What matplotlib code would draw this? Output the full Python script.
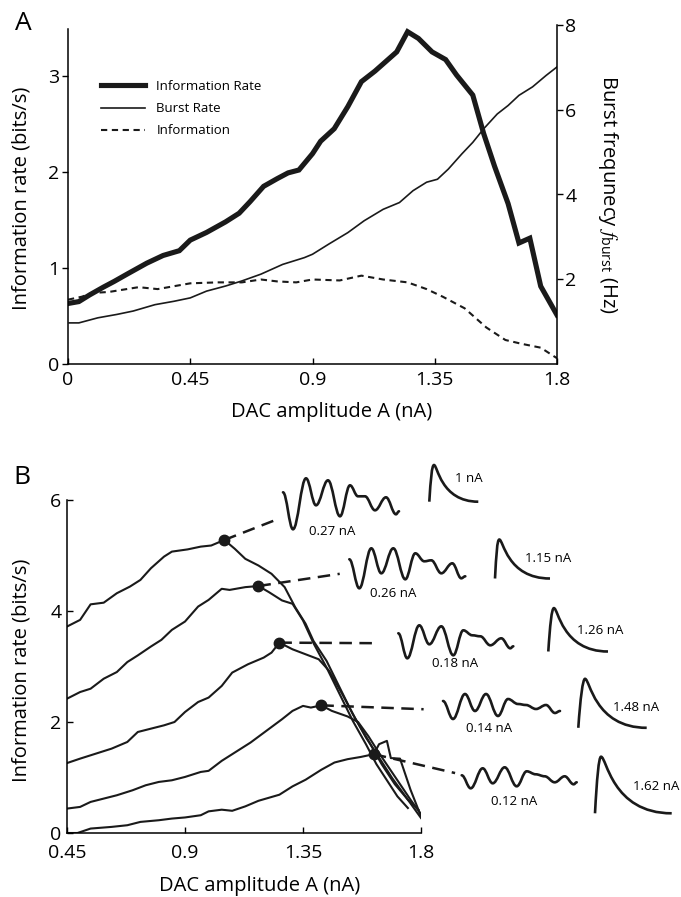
import matplotlib
matplotlib.use('Agg')
import matplotlib.pyplot as plt
from matplotlib.path import Path
from matplotlib.patches import PathPatch

plt.rcParams['font.family'] = ['Open Sans', 'DejaVu Sans']
plt.rcParams['mathtext.fontset'] = 'custom'
plt.rcParams['mathtext.rm'] = 'Open Sans'
plt.rcParams['mathtext.it'] = 'STIXGeneral:italic'

INK = '#1a1a1a'

# ---- panel A data ----
rate_x = [0, 0.04, 0.08, 0.13, 0.17, 0.22, 0.29, 0.35, 0.41, 0.45, 0.51, 0.58, 0.63, 0.67,
          0.72, 0.77, 0.81, 0.85, 0.90, 0.93, 0.98, 1.03, 1.08, 1.13, 1.17, 1.21, 1.25, 1.29,
          1.34, 1.39, 1.43, 1.49, 1.53, 1.57, 1.62, 1.66, 1.70, 1.74, 1.80]
info_rate = [0.63, 0.65, 0.72, 0.80, 0.86, 0.94, 1.05, 1.13, 1.18, 1.29, 1.37, 1.48, 1.57, 1.69,
             1.85, 1.93, 1.99, 2.02, 2.19, 2.32, 2.45, 2.68, 2.94, 3.05, 3.15, 3.25, 3.46, 3.39,
             3.25, 3.17, 3.01, 2.80, 2.40, 2.06, 1.67, 1.26, 1.31, 0.81, 0.51]

burst_x = [0, 0.04, 0.11, 0.18, 0.24, 0.32, 0.39, 0.45, 0.51, 0.58, 0.64, 0.71, 0.79, 0.87,
           0.90, 0.96, 1.03, 1.09, 1.16, 1.22, 1.27, 1.32, 1.36, 1.40, 1.45, 1.49, 1.53, 1.58,
           1.62, 1.66, 1.71, 1.76, 1.80]
burst_rate = [0.97, 0.97, 1.09, 1.17, 1.25, 1.40, 1.48, 1.56, 1.72, 1.84, 1.96, 2.12, 2.35, 2.51,
              2.59, 2.83, 3.10, 3.38, 3.65, 3.81, 4.09, 4.29, 4.36, 4.60, 4.96, 5.23, 5.55, 5.90,
              6.10, 6.34, 6.54, 6.81, 7.01]

infom_x = [0, 0.05, 0.09, 0.15, 0.26, 0.33, 0.39, 0.45, 0.55, 0.64, 0.71, 0.77, 0.84, 0.90,
           1.00, 1.08, 1.16, 1.25, 1.32, 1.38, 1.46, 1.54, 1.61, 1.67, 1.74, 1.80]
information = [0.67, 0.70, 0.74, 0.75, 0.80, 0.78, 0.81, 0.84, 0.85, 0.85, 0.88, 0.86, 0.85, 0.88,
               0.87, 0.92, 0.88, 0.85, 0.78, 0.70, 0.58, 0.38, 0.25, 0.21, 0.17, 0.06]

# ---- panel B data ----
b_x = [
    [0.45, 0.50, 0.54, 0.59, 0.64, 0.69, 0.73, 0.77, 0.82, 0.85, 0.91, 0.96, 1.00, 1.05, 1.09,
     1.13, 1.18, 1.23, 1.28, 1.32, 1.36, 1.39, 1.44, 1.49, 1.54, 1.59, 1.64, 1.69, 1.75, 1.80],
    [0.45, 0.50, 0.54, 0.59, 0.64, 0.68, 0.72, 0.77, 0.81, 0.85, 0.90, 0.95, 0.99, 1.04, 1.07,
     1.13, 1.18, 1.22, 1.27, 1.31, 1.35, 1.39, 1.44, 1.49, 1.54, 1.59, 1.63, 1.67, 1.71, 1.75],
    [0.45, 0.50, 0.56, 0.62, 0.68, 0.72, 0.77, 0.82, 0.86, 0.90, 0.95, 0.99, 1.04, 1.08, 1.14,
     1.20, 1.23, 1.26, 1.31, 1.36, 1.41, 1.45, 1.50, 1.55, 1.60, 1.65, 1.70, 1.75, 1.79],
    [0.45, 0.50, 0.54, 0.59, 0.64, 0.70, 0.75, 0.80, 0.85, 0.90, 0.96, 0.99, 1.04, 1.09, 1.15,
     1.21, 1.27, 1.31, 1.35, 1.38, 1.42, 1.46, 1.52, 1.56, 1.60, 1.64, 1.68, 1.72, 1.76, 1.80],
    [0.45, 0.49, 0.54, 0.62, 0.68, 0.73, 0.80, 0.85, 0.90, 0.96, 0.99, 1.04, 1.08, 1.13, 1.18,
     1.26, 1.31, 1.36, 1.42, 1.47, 1.52, 1.57, 1.62, 1.64, 1.67, 1.685, 1.72, 1.76, 1.80],
]
b_y = [
    [3.72, 3.84, 4.12, 4.15, 4.32, 4.44, 4.56, 4.77, 4.98, 5.07, 5.11, 5.16, 5.18, 5.28, 5.12,
     4.94, 4.82, 4.67, 4.43, 4.07, 3.77, 3.46, 3.10, 2.62, 2.14, 1.72, 1.36, 0.99, 0.60, 0.27],
    [2.42, 2.54, 2.60, 2.78, 2.90, 3.08, 3.20, 3.36, 3.48, 3.66, 3.81, 4.08, 4.20, 4.40, 4.38,
     4.43, 4.45, 4.34, 4.19, 4.13, 3.83, 3.42, 2.98, 2.50, 2.02, 1.60, 1.24, 0.95, 0.66, 0.45],
    [1.26, 1.34, 1.43, 1.52, 1.64, 1.82, 1.88, 1.94, 2.00, 2.18, 2.36, 2.44, 2.65, 2.89, 3.04,
     3.16, 3.25, 3.43, 3.31, 3.22, 3.13, 2.92, 2.50, 2.06, 1.66, 1.24, 0.88, 0.60, 0.42],
    [0.44, 0.47, 0.56, 0.62, 0.68, 0.77, 0.86, 0.92, 0.95, 1.01, 1.10, 1.12, 1.30, 1.45, 1.63,
     1.84, 2.05, 2.20, 2.29, 2.26, 2.30, 2.20, 2.10, 2.00, 1.74, 1.44, 1.16, 0.88, 0.60, 0.34],
    [0.0, 0.0, 0.08, 0.11, 0.14, 0.20, 0.23, 0.26, 0.28, 0.32, 0.39, 0.42, 0.40, 0.48, 0.58,
     0.69, 0.84, 0.96, 1.14, 1.27, 1.33, 1.37, 1.42, 1.60, 1.66, 1.35, 1.34, 0.78, 0.30],
]
peak_x = [1.05, 1.18, 1.26, 1.42, 1.62]
peak_y = [5.28, 4.45, 3.43, 2.30, 1.42]
link_x = [1.24, 1.49, 1.63, 1.81, 1.93]
link_y = [5.63, 4.67, 3.42, 2.23, 1.08]

# inset traces: oscillation (time, amplitude) and kernels (peak time, height, length)
osc_t = [
    [0, 10, 23, 33, 45, 57, 67, 75, 82, 92, 103, 113, 116],
    [0, 10, 22, 32, 44, 56, 66, 75, 82, 92, 103, 112, 116],
    [0, 9, 21, 31, 43, 55, 65, 74, 82, 92, 103, 112, 115],
    [0, 10, 22, 32, 43, 55, 65, 75, 83, 93, 103, 112, 117],
    [0, 9, 21, 31, 43, 55, 65, 74, 83, 93, 103, 112, 115],
]
osc_v = [
    [37, 0, 51, 24, 49, 13, 44, 33, 33, 19, 32, 15, 18],
    [29, 0, 40, 15, 40, 9, 35, 27, 28, 15, 25, 10, 12],
    [25, 0, 33, 14, 32, 3, 28, 23, 22, 13, 20, 10, 12],
    [18, 0, 25, 8, 25, 3, 20, 15, 14, 10, 14, 6, 8],
    [13, 0, 20, 5, 21, 2, 17, 14, 12, 6, 12, 4, 6],
]
osc_labels = ['0.27 nA', '0.26 nA', '0.18 nA', '0.14 nA', '0.12 nA']
kern_peak = [4.7, 4.3, 5.6, 6.7, 6.0]
kern_height = [36.7, 39.0, 43.4, 49.0, 56.6]
kern_len = [49.0, 55.0, 59.7, 68.4, 76.7]
kern_labels = ['1 nA', '1.15 nA', '1.26 nA', '1.48 nA', '1.62 nA']

W, H = 681, 897
fig = plt.figure(figsize=(W / 100, H / 100), dpi=100)


def fx(px):
    return px / W


def fy(py):
    return 1 - py / H


# ================= panel A =================
ax = fig.add_axes([fx(68), fy(364), fx(489), 339 / H])
ax.plot(rate_x, info_rate, color=INK, lw=3.7, solid_joinstyle='miter', label='Information Rate')
ax2 = ax.twinx()
ax2.plot(burst_x, burst_rate, color=INK, lw=1.2)
ax.plot([], [], color=INK, lw=1.2, label='Burst Rate')
ax.plot(infom_x, information, color=INK, lw=1.5, dashes=(3, 2.2), label='Information')

ax.set_xlim(0, 1.8)
ax.set_ylim(0, 3.53)
ax2.set_ylim(0, 8)
ax.set_xticks([0, 0.45, 0.9, 1.35, 1.8])
ax.set_xticklabels(['0', '0.45', '0.9', '1.35', '1.8'])
ax.set_yticks([0, 1, 2, 3])
ax2.set_yticks([2, 4, 6, 8])
ax.spines['top'].set_visible(False)
ax2.spines['top'].set_visible(False)
ax2.spines['left'].set_visible(False)
ax2.spines['bottom'].set_visible(False)
ax.spines['right'].set_visible(False)
ax.spines['left'].set_bounds(0, 3.49)
for s in ('left', 'bottom'):
    ax.spines[s].set_linewidth(1.1)
ax2.spines['right'].set_linewidth(1.1)
ax.tick_params(axis='x', direction='in', length=4, width=1, labelsize=14, pad=5)
ax.tick_params(axis='y', direction='out', length=4, width=1, labelsize=14, pad=2)
ax2.tick_params(axis='y', direction='out', length=4, width=1, labelsize=14, pad=2)

ax.set_xlabel('DAC amplitude A (nA)', fontsize=14.5)
ax.xaxis.set_label_coords(0.54, -0.112)
ax.set_ylabel('Information rate (bits/s)', fontsize=14.5)
ax.yaxis.set_label_coords(-0.074, 0.49)
ax2.set_ylabel(r'Burst frequnecy $f_{\mathrm{burst}}$ (Hz)', fontsize=14.5,
               rotation=270, va='bottom', rotation_mode='anchor')
ax2.yaxis.set_label_coords(1.080, 0.50)

ax.legend(loc='upper left', bbox_to_anchor=(fx(101), fy(80)), bbox_transform=fig.transFigure,
          frameon=False, fontsize=9.5, handlelength=3.3, handletextpad=0.9,
          labelspacing=0.7, borderpad=0, borderaxespad=0)

fig.text(fx(23), fy(24), 'A', fontsize=19, ha='center', va='center')

# ================= panel B =================
bx = fig.add_axes([fx(67), fy(833), fx(354), 333 / H])
for xs, ys in zip(b_x, b_y):
    bx.plot(xs, ys, color=INK, lw=1.5)
bx.plot(peak_x, peak_y, 'o', color=INK, ms=7.5, zorder=5, clip_on=False)
for px, py, lx, ly in zip(peak_x, peak_y, link_x, link_y):
    bx.plot([px, lx], [py, ly], color=INK, lw=1.8, dashes=(5, 3), clip_on=False)

bx.set_xlim(0.45, 1.8)
bx.set_ylim(0, 6)
bx.set_xticks([0.45, 0.9, 1.35, 1.8])
bx.set_xticklabels(['0.45', '0.9', '1.35', '1.8'])
bx.set_yticks([0, 2, 4, 6])
bx.spines['top'].set_visible(False)
bx.spines['right'].set_visible(False)
for s in ('left', 'bottom'):
    bx.spines[s].set_linewidth(1.1)
bx.tick_params(axis='both', direction='in', length=4, width=1, labelsize=14)
bx.tick_params(axis='x', pad=8)
bx.tick_params(axis='y', pad=4)
bx.set_xlabel('DAC amplitude A (nA)', fontsize=14.5)
bx.xaxis.set_label_coords(0.545, -0.128)
bx.set_ylabel('Information rate (bits/s)', fontsize=14.5)
bx.yaxis.set_label_coords(-0.099, 0.49)

fig.text(fx(22), fy(477), 'B', fontsize=19, ha='center', va='center')

# ================= inset traces =================
osc_left = [283.0, 349.3, 398.3, 443.0, 461.7]
osc_base = [529.3, 588.3, 658.3, 719.0, 788.3]
osc_label_pos = [(331.7, 531.7), (393.3, 593.0), (455.0, 663.3), (489.3, 728.3), (513.7, 801.0)]
kern_left = [429.3, 495.0, 548.3, 578.3, 595.0]
kern_base = [501.7, 578.5, 651.5, 727.8, 813.3]
kern_label_pos = [(455.0, 478.3), (525.0, 558.3), (576.7, 630.0), (613.3, 707.5), (633.3, 786.7)]


def osc_path(t, v):
    verts = [(t[0], v[0])]
    codes = [Path.MOVETO]
    for i in range(1, len(t)):
        dt = t[i] - t[i - 1]
        verts += [(t[i - 1] + 0.38 * dt, v[i - 1]), (t[i] - 0.38 * dt, v[i]), (t[i], v[i])]
        codes += [Path.CURVE4] * 3
    return Path(verts, codes)


def kern_path(tp, h, w):
    verts = [(0, 0), (0.3 * tp, 0.6 * h), (tp - 2.2, h), (tp, h),
             (tp + 0.08 * (w - tp), h), (tp + 0.15 * (w - tp), 0), (w, 0)]
    codes = [Path.MOVETO] + [Path.CURVE4] * 6
    return Path(verts, codes)


for i in range(5):
    w = max(osc_t[i])
    h = max(osc_v[i])
    ia = fig.add_axes([fx(osc_left[i]), fy(osc_base[i]), fx(w), h / H])
    ia.set_xlim(0, w)
    ia.set_ylim(0, h)
    ia.axis('off')
    ia.add_patch(PathPatch(osc_path(osc_t[i], osc_v[i]), fill=False, lw=1.9,
                           edgecolor=INK, clip_on=False, capstyle='round', joinstyle='round'))
    lx, ly = osc_label_pos[i]
    fig.text(fx(lx), fy(ly), osc_labels[i], fontsize=9.5, ha='center', va='center')

    kw, kh = kern_len[i], kern_height[i]
    ka = fig.add_axes([fx(kern_left[i]), fy(kern_base[i]), fx(kw), kh / H])
    ka.set_xlim(0, kw)
    ka.set_ylim(0, kh)
    ka.axis('off')
    ka.add_patch(PathPatch(kern_path(kern_peak[i], kh, kw), fill=False, lw=1.9,
                           edgecolor=INK, clip_on=False, joinstyle='round'))
    lx, ly = kern_label_pos[i]
    fig.text(fx(lx), fy(ly), kern_labels[i], fontsize=9.5, ha='left', va='center')

fig.savefig('out.png', dpi=100)
